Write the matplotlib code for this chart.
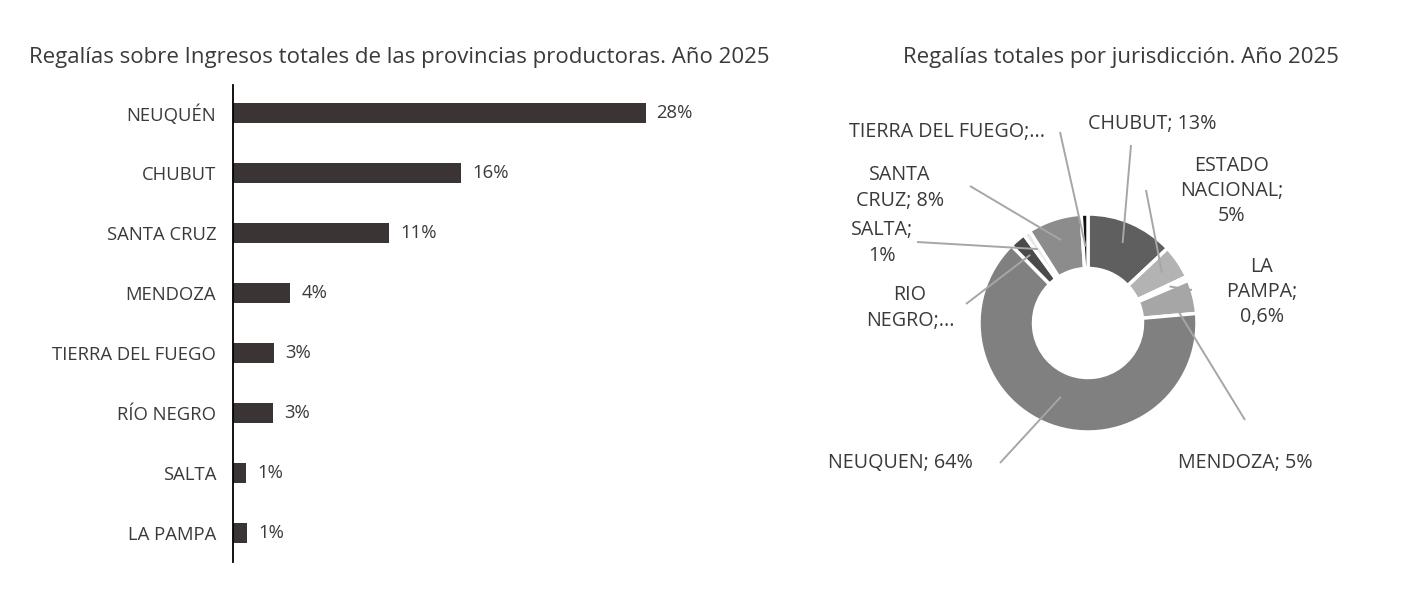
import matplotlib.pyplot as plt
import numpy as np

plt.rcParams['font.family'] = ['Open Sans', 'DejaVu Sans']

# left chart: royalties over total income of producing provinces
provinces = ['NEUQUÉN', 'CHUBUT', 'SANTA CRUZ', 'MENDOZA', 'TIERRA DEL FUEGO',
             'RÍO NEGRO', 'SALTA', 'LA PAMPA']
share = [28.0, 15.5, 10.6, 3.9, 2.8, 2.7, 0.9, 0.95]
share_labels = ['28%', '16%', '11%', '4%', '3%', '3%', '1%', '1%']

# right chart: total royalties by jurisdiction
jurisdictions = ['CHUBUT', 'ESTADO NACIONAL', 'LA PAMPA', 'MENDOZA', 'NEUQUEN',
                 'RIO NEGRO', 'SALTA', 'SANTA CRUZ', 'TIERRA DEL FUEGO']
royalties = [13, 5, 0.6, 5, 64, 2.4, 1, 8, 1.0]
pie_labels = ['CHUBUT; 13%', 'ESTADO\nNACIONAL;\n5%', 'LA\nPAMPA;\n0,6%',
              'MENDOZA; 5%', 'NEUQUEN; 64%', 'RIO\nNEGRO;...', 'SALTA;\n1%',
              'SANTA\nCRUZ; 8%', 'TIERRA DEL FUEGO;...']
pie_colors = ['#5f5f5f', '#b3b3b3', '#eeeeee', '#a6a6a6', '#808080',
              '#4a4a4a', '#e6e6e6', '#8c8c8c', '#111111']

TXT = '#3a3a3a'
W, H = 1402, 608
fig = plt.figure(figsize=(W / 100, H / 100), dpi=100)

# ---- bar chart ----
ax = fig.add_axes([233 / W, 1 - 562 / H, 442 / W, 477 / H])
y = np.arange(len(provinces))
ax.barh(y, share, height=0.34, color='#3a3435')
ax.set_ylim(7.48, -0.47)
ax.set_xlim(0, 30)
ax.set_yticks(y)
ax.set_yticklabels(provinces, fontsize=13.3, color=TXT)
ax.tick_params(axis='y', length=0, pad=12)
ax.set_xticks([])
for s in ['top', 'right', 'bottom']:
    ax.spines[s].set_visible(False)
ax.spines['left'].set_linewidth(1.3)
for yi, v, lab in zip(y, share, share_labels):
    ax.text(v + 0.75, yi, lab, va='center', ha='left', fontsize=13.3, color=TXT)

fig.text(399 / W, 1 - 57 / H,
         'Regalías sobre Ingresos totales de las provincias productoras. Año 2025',
         ha='center', va='center', fontsize=16, color=TXT)

# ---- donut chart ----
R = 109.0
cx, cy = 1088, 323
half = 200
pax = fig.add_axes([(cx - half) / W, 1 - (cy + half) / H, 2 * half / W, 2 * half / H])
wedges, _ = pax.pie(royalties, colors=pie_colors, startangle=90, counterclock=False,
                    radius=1.0, wedgeprops=dict(width=0.5, edgecolor='white', linewidth=2.5))
pax.set_xlim(-half / R, half / R)
pax.set_ylim(-half / R, half / R)
pax.axis('off')


def px(x, y_):
    return ((x - cx) / R, (cy - y_) / R)


# label positions (pixels) and leader start points
label_pos = [(1152, 124), (1232, 191), (1262, 292), (1245, 463), (900, 463),
             (910, 308), (882, 243), (900, 188), (947, 132)]
leader_start = [(1131, 145), (1146, 190), (1192, 290), (1245, 420), (1000, 463),
                (966, 304), (917, 242), (970, 186), (1060, 132)]
leader_radius = [0.8, 0.82, 0.82, 0.8, 0.72, 0.82, 0.82, 0.8, 0.7]

total = sum(royalties)
ang0 = 90.0
for i, v in enumerate(royalties):
    span = 360.0 * v / total
    mid = np.deg2rad(ang0 - span / 2)
    ang0 -= span
    r = leader_radius[i]
    ex, ey = r * np.cos(mid), r * np.sin(mid)
    sx, sy = px(*leader_start[i])
    pax.plot([sx, ex], [sy, ey], color='#a6a6a6', lw=1.4, zorder=5,
             solid_capstyle='butt', clip_on=False)
    lx, ly = px(*label_pos[i])
    pax.text(lx, ly, pie_labels[i], ha='center', va='center', fontsize=14.2,
             color=TXT, linespacing=1.35, clip_on=False)

fig.text(1121 / W, 1 - 57 / H, 'Regalías totales por jurisdicción. Año 2025',
         ha='center', va='center', fontsize=16, color=TXT)

fig.savefig('out.png', dpi=100, facecolor='white')
